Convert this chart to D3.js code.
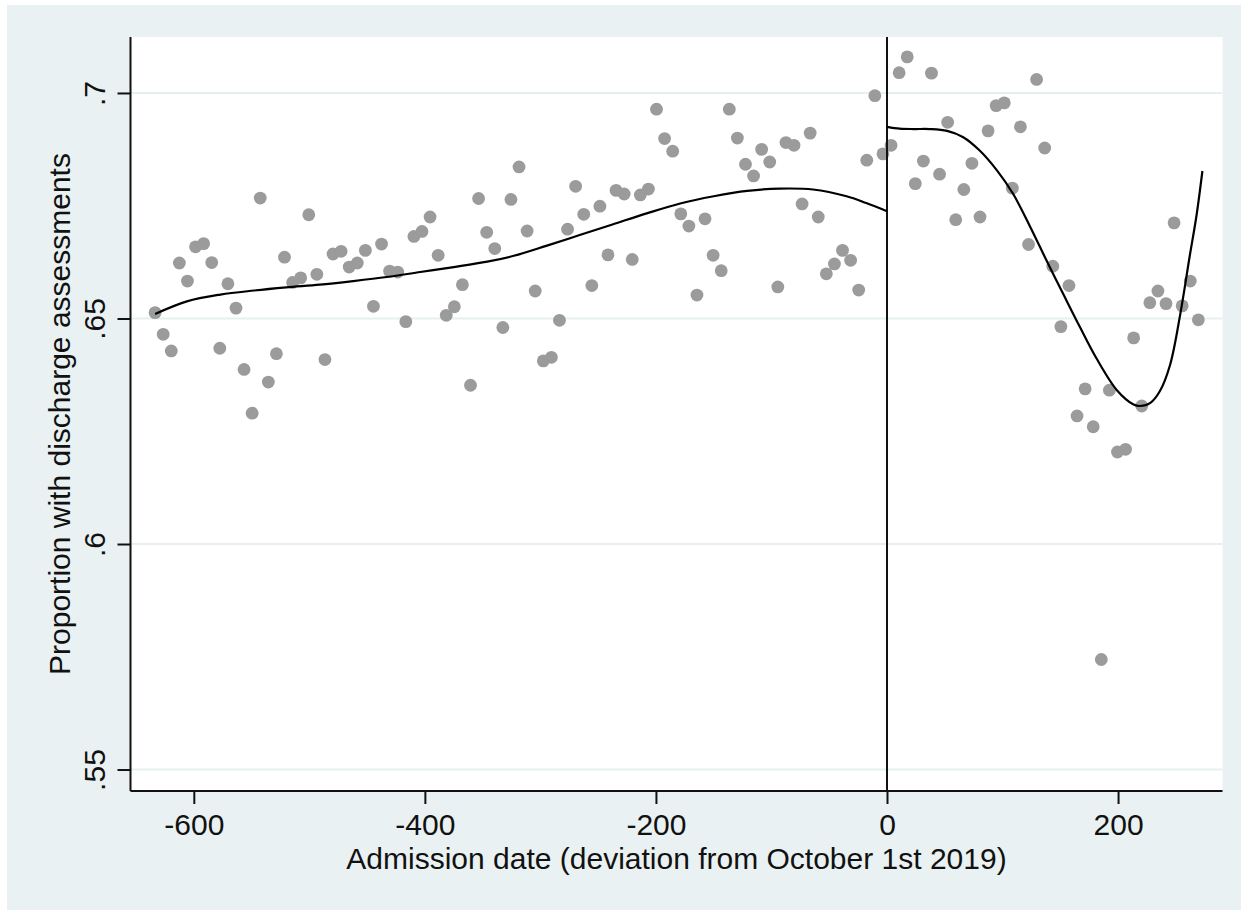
<!DOCTYPE html>
<html lang="en">

<head>
    <meta charset="UTF-8">
    <title>Discharge assessments</title>
    <script src="https://cdnjs.cloudflare.com/ajax/libs/d3/7.8.5/d3.min.js"></script>
    <style>
        body { margin: 0; background: #ffffff; }
        text { font-family: "Liberation Sans", Arial, sans-serif; }
    </style>
</head>

<body>
    <div id="chart"></div>
    <script>
        // weekly bins before the cut-off (days from Oct 1st 2019)
        const preDays = [
            -633.5, -626.5, -619.5, -612.5, -605.5, -598.5, -591.5, -584.5, -577.5, -570.5,
            -563.5, -556.5, -549.5, -542.5, -535.5, -528.5, -521.5, -514.5, -507.5, -500.5,
            -493.5, -486.5, -479.5, -472.5, -465.5, -458.5, -451.5, -444.5, -437.5, -430.5,
            -423.5, -416.5, -409.5, -402.5, -395.5, -388.5, -381.5, -374.5, -367.5, -360.5,
            -353.5, -346.5, -339.5, -332.5, -325.5, -318.5, -311.5, -304.5, -297.5, -290.5,
            -283.5, -276.5, -269.5, -262.5, -255.5, -248.5, -241.5, -234.5, -227.5, -220.5,
            -213.5, -206.5, -199.5, -192.5, -185.5, -178.5, -171.5, -164.5, -157.5, -150.5,
            -143.5, -136.5, -129.5, -122.5, -115.5, -108.5, -101.5, -94.5, -87.5, -80.5,
            -73.5, -66.5, -59.5, -52.5, -45.5, -38.5, -31.5, -24.5, -17.5, -10.5,
            -3.5
        ];
        const preShare = [
            .6513, .6465, .6428, .6623, .6583, .6659, .6666, .6624, .6434, .6577,
            .6523, .6387, .6290, .6767, .6359, .6422, .6636, .6580, .6590, .6730,
            .6598, .6409, .6643, .6649, .6614, .6623, .6651, .6527, .6665, .6605,
            .6603, .6493, .6682, .6693, .6725, .6640, .6507, .6526, .6575, .6352,
            .6766, .6691, .6655, .6480, .6764, .6836, .6694, .6561, .6406, .6414,
            .6496, .6698, .6793, .6731, .6573, .6749, .6641, .6784, .6776, .6631,
            .6774, .6787, .6964, .6899, .6871, .6732, .6705, .6552, .6721, .6640,
            .6606, .6964, .6900, .6842, .6816, .6875, .6847, .6570, .6890, .6884,
            .6754, .6911, .6725, .6599, .6621, .6651, .6629, .6563, .6851, .6994,
            .6865
        ];

        // weekly bins after the cut-off
        const postDays = [
            3.5, 10.5, 17.5, 24.5, 31.5, 38.5, 45.5, 52.5, 59.5, 66.5,
            73.5, 80.5, 87.5, 94.5, 101.5, 108.5, 115.5, 122.5, 129.5, 136.5,
            143.5, 150.5, 157.5, 164.5, 171.5, 178.5, 185.5, 192.5, 199.5, 206.5,
            213.5, 220.5, 227.5, 234.5, 241.5, 248.5, 255.5, 262.5, 269.5
        ];
        const postShare = [
            .6884, .7045, .7080, .6799, .6849, .7044, .6820, .6935, .6719, .6786,
            .6844, .6725, .6916, .6972, .6978, .6789, .6925, .6664, .7030, .6878,
            .6616, .6482, .6573, .6284, .6344, .6260, .5744, .6341, .6204, .6210,
            .6457, .6306, .6535, .6561, .6533, .6712, .6528, .6583, .6497
        ];

        // fitted curves
        const preFitDays = [-633.5, -606, -577, -548, -520, -491, -462, -433, -404, -375, -346, -323,
            -295, -266, -237, -208, -179, -150, -121, -93, -64, -35, -18, 0];
        const preFit = [.6510, .6538, .6553, .6562, .6569, .6575, .6583, .6592, .6603, .6614, .6626, .6639,
            .6661, .6685, .6709, .6733, .6755, .6771, .6783, .6788, .6786, .6771, .6756, .6738];
        const postFitDays = [0, 11, 23, 37, 52, 66, 80, 95, 109, 124, 138, 153,
            167, 181, 199, 213, 219, 228, 236, 245, 254, 262, 268, 273];
        const postFit = [.6925, .6921, .6920, .6920, .6916, .6902, .6873, .6829, .6777, .6703, .6629, .6552,
            .6481, .6413, .6341, .6310, .6306, .6313, .6338, .6397, .6512, .6638, .6730, .6827];

        const xTicks = [-600, -400, -200, 0, 200];
        const yTicks = [.55, .6, .65, .7];
        const yTickLabels = ['.55', '.6', '.65', '.7'];

        const W = 1241, H = 910;
        // plot box
        const pLeft = 130.5, pRight = 1222.5, pTop = 37, pBottom = 791;

        const svg = d3.select('#chart')
            .append('svg')
            .attr('width', W)
            .attr('height', H);

        // outer (graph region) background
        svg.append('rect')
            .attr('x', 7).attr('y', 5)
            .attr('width', W - 7).attr('height', H - 5)
            .attr('fill', '#eaf1f3');

        // plot region
        svg.append('rect')
            .attr('x', pLeft).attr('y', pTop)
            .attr('width', pRight - pLeft).attr('height', pBottom - pTop)
            .attr('fill', '#ffffff');

        const x = d3.scaleLinear().domain([-654.8, 290.4]).range([pLeft, pRight]);
        const y = d3.scaleLinear().domain([.54524, .71241]).range([pBottom, pTop]);

        // horizontal grid
        svg.append('g')
            .selectAll('line')
            .data(yTicks)
            .enter()
            .append('line')
            .attr('x1', pLeft).attr('x2', pRight)
            .attr('y1', d => y(d)).attr('y2', d => y(d))
            .attr('stroke', '#e6eff1')
            .attr('stroke-width', 2);

        // points
        const points = preDays.map((d, i) => ({ day: d, share: preShare[i] }))
            .concat(postDays.map((d, i) => ({ day: d, share: postShare[i] })));

        svg.append('g')
            .selectAll('circle')
            .data(points)
            .enter()
            .append('circle')
            .attr('cx', d => x(d.day))
            .attr('cy', d => y(d.share))
            .attr('r', 6.4)
            .attr('fill', '#9b9b9b');

        // cut-off line at 0
        svg.append('line')
            .attr('x1', x(0)).attr('x2', x(0))
            .attr('y1', pTop).attr('y2', pBottom)
            .attr('stroke', '#111')
            .attr('stroke-width', 2);

        // fitted lines
        const line = d3.line()
            .x(d => x(d[0]))
            .y(d => y(d[1]))
            .curve(d3.curveCatmullRom.alpha(0.5));

        [[preFitDays, preFit], [postFitDays, postFit]].forEach(function (s) {
            svg.append('path')
                .datum(s[0].map((d, i) => [d, s[1][i]]))
                .attr('d', line)
                .attr('fill', 'none')
                .attr('stroke', '#000')
                .attr('stroke-width', 2.2);
        });

        // x axis (plain hyphen for negatives, like the original)
        const xAxis = svg.append('g')
            .attr('transform', `translate(0,${pBottom})`)
            .call(d3.axisBottom(x).tickValues(xTicks).tickFormat(d => String(d))
                .tickSize(13).tickPadding(10).tickSizeOuter(0));

        xAxis.selectAll('text')
            .attr('font-size', 30)
            .attr('fill', '#111');

        // y axis, labels turned like Stata
        const yAxis = svg.append('g')
            .attr('transform', `translate(${pLeft},0)`)
            .call(d3.axisLeft(y).tickValues(yTicks).tickFormat((d, i) => yTickLabels[i]).tickSize(13).tickSizeOuter(0));

        yAxis.selectAll('.tick text')
            .attr('transform', 'rotate(-90)')
            .attr('x', 0)
            .attr('y', -26)
            .attr('dy', 0)
            .attr('text-anchor', 'middle')
            .attr('font-size', 30)
            .attr('fill', '#111');

        [xAxis, yAxis].forEach(function (g) {
            g.select('.domain').attr('stroke', '#111').attr('stroke-width', 2);
            g.selectAll('.tick line').attr('stroke', '#111').attr('stroke-width', 2);
        });

        // left axis goes to the top of the plot
        yAxis.select('.domain').attr('d', `M0,${pBottom}V${pTop}`);
        xAxis.select('.domain').attr('d', `M${pLeft},0H${pRight}`);

        // axis titles
        svg.append('text')
            .attr('x', (pLeft + pRight) / 2)
            .attr('y', 869)
            .attr('text-anchor', 'middle')
            .attr('font-size', 30)
            .attr('fill', '#111')
            .text('Admission date (deviation from October 1st 2019)');

        svg.append('text')
            .attr('transform', `translate(70,${(pTop + pBottom) / 2}) rotate(-90)`)
            .attr('text-anchor', 'middle')
            .attr('font-size', 30)
            .attr('fill', '#111')
            .text('Proportion with discharge assessments');
    </script>
</body>

</html>
